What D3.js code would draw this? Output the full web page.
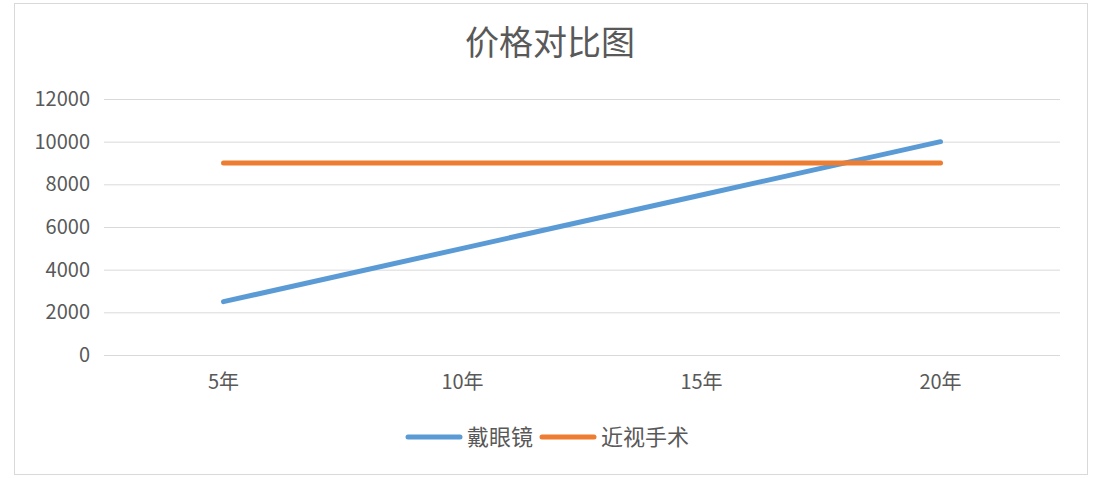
<!DOCTYPE html>
<html>
<head>
<meta charset="utf-8">
<script src="https://cdn.jsdelivr.net/npm/d3@7"></script>
<style>
  body { margin: 0; background: #fff; }
  text { font-family: "Noto Sans CJK SC", "Noto Sans", sans-serif; fill: #595959; }
</style>
</head>
<body>
<script>
// chart data
const categories = ['5年', '10年', '15年', '20年'];
const glassesCost = [2500, 5000, 7500, 10000];   // 戴眼镜
const surgeryCost = [9000, 9000, 9000, 9000];    // 近视手术
const yTicks = [0, 2000, 4000, 6000, 8000, 10000, 12000];
const seriesNames = ['戴眼镜', '近视手术'];
const seriesColors = ['#5b9bd5', '#ed7d31'];

const width = 1100, height = 478;
const svg = d3.select('body').append('svg')
    .attr('width', width)
    .attr('height', height);

// outer frame
svg.append('rect')
    .attr('x', 14.5).attr('y', 3.5)
    .attr('width', 1073).attr('height', 471)
    .attr('fill', '#fff')
    .attr('stroke', '#d9d9d9');

svg.append('text')
    .attr('x', 550).attr('y', 55)
    .attr('text-anchor', 'middle')
    .attr('font-size', 34)
    .text('价格对比图');

let x = d3.scaleBand().domain(categories).range([104, 1060]);
let y = d3.scaleLinear().domain([0, 12000]).range([355, 99]);

// gridlines + y labels
let yAxis = svg.append('g')
    .attr('transform', 'translate(104,0)')
    .call(d3.axisLeft(y).tickValues(yTicks).tickSize(-956).tickPadding(14).tickFormat(d3.format('d')));
yAxis.select('.domain').remove();
yAxis.selectAll('line').attr('stroke', '#d9d9d9');
yAxis.selectAll('text').attr('font-size', 20).style('fill', '#595959');

let xAxis = svg.append('g')
    .attr('transform', 'translate(0,355)')
    .call(d3.axisBottom(x).tickSize(0).tickPadding(20));
xAxis.select('.domain').remove();
xAxis.selectAll('text').attr('font-size', 20).style('fill', '#595959');

let line = d3.line()
    .x((d, i) => x(categories[i]) + x.bandwidth() / 2)
    .y(d => y(d));

[glassesCost, surgeryCost].forEach((vals, i) => {
    svg.append('path')
        .datum(vals)
        .attr('d', line)
        .attr('fill', 'none')
        .attr('stroke', seriesColors[i])
        .attr('stroke-width', 5)
        .attr('stroke-linecap', 'round');
});

// legend
let legendX = [408, 542];
seriesNames.forEach((name, i) => {
    let g = svg.append('g').attr('transform', `translate(${legendX[i]},437)`);
    g.append('line')
        .attr('x1', 0).attr('x2', 52)
        .attr('stroke', seriesColors[i])
        .attr('stroke-width', 5)
        .attr('stroke-linecap', 'round');
    g.append('text')
        .attr('x', 59).attr('y', 8)
        .attr('font-size', 22)
        .text(name);
});
</script>
</body>
</html>
